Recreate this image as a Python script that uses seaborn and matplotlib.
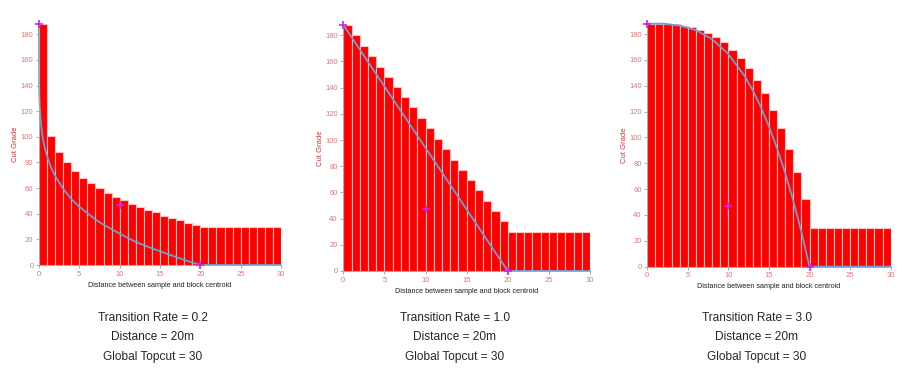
import numpy as np
import pandas as pd
import seaborn as sns
import matplotlib
matplotlib.use('Agg')
import matplotlib.pyplot as plt

sns.set_style('white')
plt.rcParams['font.family'] = ['Liberation Sans', 'DejaVu Sans']

# bar data: cut grade for each 1 m distance bin
distance = list(range(30))
grade_02 = [188, 101, 88, 80, 73, 68, 64, 60, 56.5, 53, 50.5, 47.5, 45, 43, 41,
            38.5, 36.5, 35, 33, 31.5, 30, 30, 30, 30, 30, 30, 30, 30, 30, 30]
grade_10 = [188, 180, 172, 164, 156, 148.5, 140.5, 132.5, 125, 117, 109, 101, 93, 85, 77.5,
            69.5, 61.5, 53.5, 45.5, 38, 30, 30, 30, 30, 30, 30, 30, 30, 30, 30]
grade_30 = [188, 188, 188, 187.5, 186.5, 185.5, 183.5, 181, 178, 173.5, 168, 161.5, 154, 144.5, 134,
            121, 107, 91, 73, 52.5, 30, 30, 30, 30, 30, 30, 30, 30, 30, 30]

# transition curves
curve_x_02 = [0, 0.02, 0.05, 0.1, 0.25, 0.5, 0.75, 1, 1.5, 2, 3, 4, 5, 6, 7, 8, 10,
              12, 14, 16, 18, 20, 30]
curve_y_02 = [188, 141, 131, 123, 110, 98, 90.5, 85, 76, 69.5, 59.5, 51.5, 45.5, 40.5, 35.5,
              31.5, 24.5, 18, 13, 8.5, 4, 0, 0]
curve_x_10 = [0, 20, 30]
curve_y_10 = [188, 0, 0]
curve_x_30 = [0, 2, 4, 6, 8, 10, 12, 13, 14, 15, 16, 17, 18, 19, 20, 30]
curve_y_30 = [188, 188, 186.5, 183, 176, 164.5, 147.5, 136.5, 123.5, 108.5, 91.5, 72.5, 51,
              27, 0, 0]

# control points
ctrl_x = [0, 10, 20]
ctrl_y = [188, 47, 0]

panels = [
    (grade_02, curve_x_02, curve_y_02, 'Transition Rate = 0.2', [0.0432, 0.2895, 0.2683, 0.646], 0.1696),
    (grade_10, curve_x_10, curve_y_10, 'Transition Rate = 1.0', [0.3806, 0.2735, 0.2735, 0.660], 0.5044),
    (grade_30, curve_x_30, curve_y_30, 'Transition Rate = 3.0', [0.7176, 0.2850, 0.2698, 0.6515], 0.8392),
]

fig = plt.figure(figsize=(9.02, 3.73), dpi=100)

for grade, cx, cy, title, pos, tx in panels:
    ax = fig.add_axes(pos)
    df = pd.DataFrame({'Distance': distance, 'Grade': grade})
    sns.histplot(data=df, x='Distance', weights='Grade', bins=list(range(31)), ax=ax,
                 color='#ff0000', alpha=1, edgecolor='#ffc0c0', linewidth=0.8)
    line = sns.lineplot(x=cx, y=cy, ax=ax, color='#6f9fd0', linewidth=1.3, sort=False)
    for ln in ax.lines:
        ln.set_clip_on(False)
    sns.scatterplot(x=ctrl_x, y=ctrl_y, ax=ax, marker='+', color='#cc22ee', s=40,
                    linewidth=1.2, zorder=5, clip_on=False)
    ax.set_xlim(0, 30)
    ax.set_ylim(0, 188)
    ax.set_xticks(range(0, 31, 5))
    ax.set_yticks(range(0, 181, 20))
    ax.tick_params(axis='both', labelsize=5.5, labelcolor='#e87478', color='#999999',
                   length=2.5, width=0.6, direction='out', bottom=True, left=True, pad=1.5)
    for s in ['top', 'right']:
        ax.spines[s].set_visible(False)
    ax.spines['left'].set_color('#aaaaaa')
    ax.spines['bottom'].set_color('#8fb0d0')
    ax.spines['left'].set_linewidth(0.7)
    ax.spines['bottom'].set_linewidth(0.7)
    ax.set_xlabel('Distance between sample and block centroid', fontsize=5.2, color='#222222',
                  labelpad=3)
    ax.set_ylabel('Cut Grade', fontsize=5.5, color='#e03030', labelpad=1)
    fig.text(tx, 0.147, title, ha='center', va='center', fontsize=8.6)
    fig.text(tx, 0.096, 'Distance = 20m', ha='center', va='center', fontsize=8.6)
    fig.text(tx, 0.043, 'Global Topcut = 30', ha='center', va='center', fontsize=8.6)

fig.savefig('out.png', dpi=100)
